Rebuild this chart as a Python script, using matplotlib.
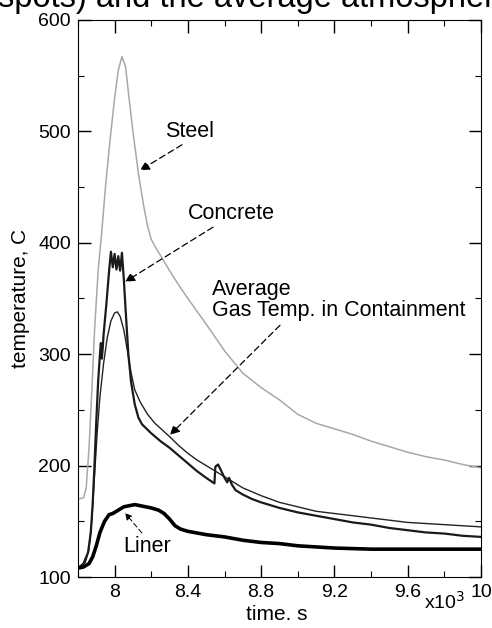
import matplotlib
matplotlib.use("Agg")
import matplotlib.pyplot as plt
import matplotlib.ticker as ticker

plt.rcParams['font.family'] = ['Liberation Sans', 'DejaVu Sans']

# time in 10^3 s, temperature in C
steel_t = [7.80, 7.83, 7.845, 7.86, 7.875, 7.89, 7.91, 7.93, 7.95, 7.975, 8.00, 8.02, 8.04,
           8.06, 8.08, 8.10, 8.13, 8.16, 8.18, 8.20, 8.23, 8.26, 8.30, 8.35, 8.40, 8.50,
           8.60, 8.70, 8.80, 8.90, 9.00, 9.10, 9.20, 9.30, 9.40, 9.50, 9.60, 9.70, 9.80,
           9.90, 10.0]
steel_T = [170, 171, 180, 215, 265, 320, 375, 410, 450, 492, 530, 555, 567,
           558, 528, 500, 462, 432, 415, 403, 394, 386, 375, 362, 350, 327,
           303, 283, 270, 259, 246, 238, 233, 228, 222, 217, 212, 208, 205,
           201, 198]

concrete_t = [7.80, 7.83, 7.855, 7.87, 7.88, 7.89, 7.90, 7.91, 7.92, 7.925, 7.93, 7.935,
              7.94, 7.955, 7.97, 7.98, 7.99, 8.00, 8.01, 8.02, 8.03, 8.04, 8.05, 8.06,
              8.075, 8.09, 8.11, 8.13, 8.15, 8.20, 8.25, 8.30, 8.35, 8.40, 8.45, 8.50,
              8.545, 8.55, 8.565, 8.58, 8.60, 8.615, 8.625, 8.64, 8.66, 8.70, 8.75, 8.80,
              8.90, 9.00, 9.10, 9.20, 9.30, 9.40, 9.50, 9.60, 9.70, 9.80, 9.90, 10.0]
concrete_T = [108, 112, 122, 140, 165, 200, 240, 275, 300, 310, 296, 305,
              318, 345, 375, 392, 378, 390, 376, 388, 375, 391, 368, 340,
              300, 275, 255, 243, 237, 229, 222, 216, 209, 202, 195, 189,
              184, 199, 201, 196, 189, 185, 189, 183, 178, 174, 170, 167,
              162, 158, 155, 152, 149, 147, 144, 142, 140, 139, 137, 136]

gas_t = [7.80, 7.84, 7.86, 7.875, 7.89, 7.905, 7.92, 7.94, 7.96, 7.98, 8.00, 8.015,
         8.03, 8.05, 8.07, 8.09, 8.11, 8.14, 8.18, 8.22, 8.26, 8.30, 8.35, 8.40,
         8.45, 8.50, 8.55, 8.60, 8.65, 8.70, 8.80, 8.90, 9.00, 9.10, 9.20, 9.30,
         9.40, 9.50, 9.60, 9.70, 9.80, 9.90, 10.0]
gas_T = [108, 113, 125, 150, 190, 230, 262, 292, 315, 330, 337, 338,
         334, 322, 303, 283, 268, 257, 246, 238, 232, 226, 218, 211,
         205, 200, 195, 190, 185, 180, 173, 167, 163, 159, 157, 155,
         153, 151, 149, 148, 147, 146, 145]

liner_t = [7.80, 7.83, 7.86, 7.88, 7.90, 7.92, 7.945, 7.97, 7.99, 8.02, 8.05, 8.08,
           8.11, 8.14, 8.17, 8.20, 8.24, 8.27, 8.30, 8.33, 8.36, 8.40, 8.50, 8.60,
           8.70, 8.80, 8.90, 9.00, 9.10, 9.20, 9.40, 9.60, 9.80, 10.0]
liner_T = [108, 109, 112, 118, 128, 140, 150, 156, 157, 160, 163, 164,
           165, 164, 163, 162, 160, 157, 152, 146, 143, 141, 138, 136,
           133, 131, 130, 128, 127, 126, 125, 125, 125, 125]

xticks = [8.0, 8.4, 8.8, 9.2, 9.6, 10.0]
xtick_labels = ['8', '8.4', '8.8', '9.2', '9.6', '10']
yticks = [100, 200, 300, 400, 500, 600]

fig = plt.figure(figsize=(4.92, 6.28), dpi=100)
ax = fig.add_axes([0.1585, 0.0812, 0.819, 0.887])

ax.plot(steel_t, steel_T, color='#a8a8a8', lw=1.1)
ax.plot(gas_t, gas_T, color='#222222', lw=1.0)
ax.plot(concrete_t, concrete_T, color='#1a1a1a', lw=1.6)
ax.plot(liner_t, liner_T, color='black', lw=2.6)

ax.set_xlim(7.8, 10.0)
ax.set_ylim(100, 600)
ax.set_xticks(xticks)
ax.set_xticklabels(xtick_labels)
ax.set_yticks(yticks)
ax.xaxis.set_minor_locator(ticker.MultipleLocator(0.2))
ax.yaxis.set_minor_locator(ticker.MultipleLocator(50))
ax.tick_params(which='major', direction='in', top=True, right=True, length=9, width=1,
               labelsize=14, pad=5)
ax.tick_params(which='minor', direction='in', top=True, right=True, length=4, width=0.8)
for s in ax.spines.values():
    s.set_linewidth(0.8)

ax.set_ylabel('temperature, C', fontsize=15)
ax.yaxis.set_label_coords(-0.119, 0.5)
ax.set_xlabel('time. s', fontsize=15)
ax.xaxis.set_label_coords(0.494, -0.05)
ax.text(0.91, -0.044, r'x10$^3$', transform=ax.transAxes, fontsize=14,
        ha='center', va='center')

arrow = dict(arrowstyle='-|>', color='black', lw=0.9, linestyle=(0, (5, 3)),
             mutation_scale=14, shrinkA=0, shrinkB=0)
ax.text(8.411, 499.5, 'Steel', fontsize=15.5, ha='center', va='center')
ax.annotate('', xy=(8.138, 465), xytext=(8.368, 488), arrowprops=arrow)
ax.text(8.40, 426.7, 'Concrete', fontsize=15.5, ha='left', va='center')
ax.annotate('', xy=(8.057, 365), xytext=(8.537, 414), arrowprops=arrow)
ax.text(8.531, 349, 'Average\nGas Temp. in Containment', fontsize=15.5, ha='left',
        va='center', linespacing=1.0)
ax.annotate('', xy=(8.302, 227.5), xytext=(8.903, 326), arrowprops=arrow)
ax.text(8.046, 127.5, 'Liner', fontsize=15.5, ha='left', va='center')
ax.annotate('', xy=(8.057, 157.5), xytext=(8.149, 139.5),
            arrowprops=dict(arrow, lw=0.7, mutation_scale=10))

# caption line from the page above, cut off by the crop
fig.text(-0.005, 1 - 7 / 628, 'spots) and the average atmospheric', fontsize=23.5,
         ha='left', va='baseline')

fig.savefig('out.png', dpi=100)
